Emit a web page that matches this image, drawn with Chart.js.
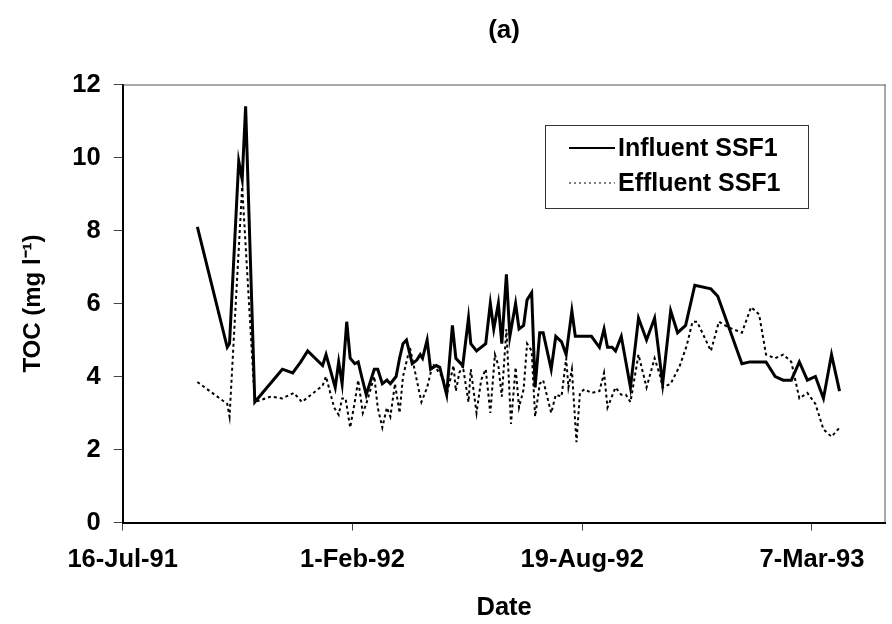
<!DOCTYPE html>
<html>
<head>
<meta charset="utf-8">
<script src="https://cdn.jsdelivr.net/npm/chart.js@4.4.0/dist/chart.umd.min.js"></script>
<style>
  html, body { margin: 0; padding: 0; background: #fff; }
</style>
</head>
<body>
<canvas id="chart" width="892" height="624"></canvas>
<script>
// x axis runs on days counted from the first tick date
const AXIS_START = "1991-07-16";
const AXIS_END = "1993-05-10";
const tickDates = ["1991-07-16", "1992-02-01", "1992-08-19", "1993-03-07"];
const tickLabels = ["16-Jul-91", "1-Feb-92", "19-Aug-92", "7-Mar-93"];

const influentDates = [
  "1991-09-19", "1991-10-15", "1991-10-17", "1991-10-25", "1991-10-28", "1991-10-31", "1991-11-08",
  "1991-12-02", "1991-12-11", "1991-12-18", "1991-12-24",
  "1992-01-06", "1992-01-09", "1992-01-17", "1992-01-20", "1992-01-23", "1992-01-27", "1992-01-30",
  "1992-02-03", "1992-02-06", "1992-02-09", "1992-02-13", "1992-02-20", "1992-02-23", "1992-02-27",
  "1992-03-02", "1992-03-05", "1992-03-10", "1992-03-13", "1992-03-16", "1992-03-19", "1992-03-24",
  "1992-03-28", "1992-03-31", "1992-04-02", "1992-04-06", "1992-04-09", "1992-04-14", "1992-04-17",
  "1992-04-23", "1992-04-28", "1992-05-01", "1992-05-07", "1992-05-12", "1992-05-14", "1992-05-19",
  "1992-05-27", "1992-05-31", "1992-06-03", "1992-06-07", "1992-06-10", "1992-06-14", "1992-06-17",
  "1992-06-22", "1992-06-25", "1992-06-29", "1992-07-02", "1992-07-06", "1992-07-09", "1992-07-13",
  "1992-07-16", "1992-07-23", "1992-07-27", "1992-08-01", "1992-08-05", "1992-08-10", "1992-08-13",
  "1992-08-17", "1992-08-27", "1992-09-03", "1992-09-07", "1992-09-10", "1992-09-14", "1992-09-17",
  "1992-09-22", "1992-09-30", "1992-10-07", "1992-10-14", "1992-10-21", "1992-10-28", "1992-11-04",
  "1992-11-10", "1992-11-17", "1992-11-25", "1992-12-09", "1992-12-15",
  "1993-01-05", "1993-01-12", "1993-01-26", "1993-02-03", "1993-02-10", "1993-02-17", "1993-02-24",
  "1993-03-03", "1993-03-10", "1993-03-17", "1993-03-24", "1993-03-31"
];
const influentToc = [
  8.1, 4.8, 4.9, 9.9, 9.4, 11.4, 3.3,
  4.2, 4.1, 4.4, 4.7,
  4.3, 4.6, 3.7, 4.4, 3.8, 5.5, 4.5,
  4.35, 4.4, 4.0, 3.5, 4.2, 4.2, 3.8,
  3.9, 3.8, 4.0, 4.5, 4.9, 5.0, 4.35,
  4.45, 4.6, 4.5, 5.0, 4.2, 4.3, 4.25,
  3.5, 5.4, 4.5, 4.3, 5.6, 4.9, 4.7,
  4.9, 6.0, 5.3, 6.0, 4.9, 6.8, 5.1,
  6.0, 5.3, 5.4, 6.1, 6.3, 3.7, 5.2,
  5.2, 4.2, 5.1, 4.95, 4.6, 5.8, 5.1,
  5.1, 5.1, 4.8, 5.3, 4.8, 4.8, 4.7,
  5.1, 3.7, 5.6, 5.0, 5.6, 3.8, 5.8,
  5.2, 5.4, 6.5, 6.4, 6.2,
  4.35, 4.4, 4.4, 4.0, 3.9, 3.9, 4.4,
  3.9, 4.0, 3.4, 4.6, 3.6
];

const effluentDates = [
  "1991-09-19", "1991-10-15", "1991-10-17", "1991-10-28", "1991-11-08", "1991-11-22",
  "1991-12-02", "1991-12-12", "1991-12-19", "1991-12-29",
  "1992-01-06", "1992-01-09", "1992-01-16", "1992-01-20", "1992-01-23", "1992-01-26", "1992-01-30",
  "1992-02-03", "1992-02-06", "1992-02-10", "1992-02-13", "1992-02-20", "1992-02-23", "1992-02-27",
  "1992-03-02", "1992-03-05", "1992-03-09", "1992-03-13", "1992-03-16", "1992-03-22", "1992-03-25",
  "1992-04-01", "1992-04-06", "1992-04-11", "1992-04-20", "1992-04-23", "1992-04-29",
  "1992-05-01", "1992-05-04", "1992-05-07", "1992-05-12", "1992-05-14", "1992-05-19", "1992-05-23",
  "1992-05-27", "1992-05-31", "1992-06-04", "1992-06-07", "1992-06-10", "1992-06-14", "1992-06-18",
  "1992-06-22", "1992-06-25", "1992-06-29", "1992-07-02", "1992-07-06", "1992-07-09", "1992-07-13",
  "1992-07-16", "1992-07-23", "1992-07-27", "1992-08-01", "1992-08-05", "1992-08-07", "1992-08-10",
  "1992-08-14", "1992-08-17", "1992-08-21", "1992-08-27", "1992-09-03", "1992-09-07", "1992-09-10",
  "1992-09-17", "1992-09-22", "1992-09-26", "1992-09-30", "1992-10-07", "1992-10-14", "1992-10-21",
  "1992-10-26", "1992-10-28", "1992-11-04", "1992-11-12", "1992-11-18", "1992-11-23", "1992-11-27",
  "1992-12-09", "1992-12-16", "1992-12-24",
  "1993-01-05", "1993-01-13", "1993-01-20", "1993-01-26", "1993-02-03", "1993-02-10", "1993-02-17",
  "1993-02-24", "1993-03-03", "1993-03-10", "1993-03-17", "1993-03-24", "1993-03-31"
];
const effluentToc = [
  3.85, 3.25, 2.9, 9.2, 3.3, 3.45,
  3.4, 3.55, 3.3, 3.55,
  3.75, 4.0, 3.15, 2.95, 3.4, 3.4, 2.6,
  3.3, 3.9, 3.0, 3.25, 4.0, 3.15, 2.6,
  3.15, 2.9, 3.8, 3.0, 4.0, 4.8, 4.35,
  3.3, 3.7, 4.35, 3.95, 3.5, 4.3,
  3.6, 4.1, 4.3, 3.3, 4.2, 3.0, 3.9,
  4.2, 3.0, 4.6, 4.3, 3.45, 5.3, 2.7,
  4.25, 3.15, 3.65, 4.9, 4.7, 2.9, 3.8,
  3.9, 3.0, 3.5, 3.45, 4.5, 3.7, 4.2,
  2.2, 3.55, 3.65, 3.55, 3.6, 4.1, 3.15,
  3.7, 3.5, 3.5, 3.3, 4.6, 3.7, 4.5,
  4.0, 3.7, 3.8, 4.3, 4.85, 5.5, 5.5,
  4.7, 5.5, 5.35,
  5.2, 5.9, 5.7, 4.6, 4.5, 4.6, 4.4,
  3.4, 3.55, 3.25, 2.55, 2.35, 2.6
];

const seriesNames = ["Influent SSF1", "Effluent SSF1"];
const yTitle = "TOC (mg l\u207B\u00B9)";
const xTitle = "Date";
const chartTitle = "(a)";

function toDay(s) {
  const p = s.split("-").map(Number);
  const b = AXIS_START.split("-").map(Number);
  return (Date.UTC(p[0], p[1] - 1, p[2]) - Date.UTC(b[0], b[1] - 1, b[2])) / 86400000;
}

function toPoints(dates, values) {
  return dates.map((d, i) => ({ x: toDay(d), y: values[i] }));
}

const FONT = "Arial, 'Liberation Sans', Helvetica, sans-serif";
Chart.defaults.font.family = FONT;
Chart.defaults.font.weight = "bold";
Chart.defaults.color = "#000";

// thin frame on top and right of the plot area, like the excel plot box
const frameLines = {
  id: "frameLines",
  afterDraw(chart) {
    const a = chart.chartArea;
    const ctx = chart.ctx;
    ctx.save();
    ctx.lineWidth = 1;
    ctx.strokeStyle = "#555";
    ctx.beginPath();
    ctx.moveTo(a.left, a.top + 0.5);
    ctx.lineTo(a.right, a.top + 0.5);
    ctx.moveTo(a.right - 0.5, a.top);
    ctx.lineTo(a.right - 0.5, a.bottom);
    ctx.stroke();
    ctx.restore();
  }
};

// "(a)" centred over the plot area
const panelTitle = {
  id: "panelTitle",
  afterDraw(chart) {
    const a = chart.chartArea;
    const ctx = chart.ctx;
    ctx.save();
    ctx.font = "bold 26px " + FONT;
    ctx.fillStyle = "#000";
    ctx.textAlign = "center";
    ctx.textBaseline = "middle";
    ctx.fillText(chartTitle, (a.left + a.right) / 2, 31);
    ctx.restore();
  }
};

// boxed legend inside the plot area
const boxLegend = {
  id: "boxLegend",
  afterDraw(chart) {
    const ctx = chart.ctx;
    const left = 545, top = 125, w = 263, h = 83;
    ctx.save();
    ctx.fillStyle = "#fff";
    ctx.fillRect(left, top, w, h);
    ctx.lineWidth = 1;
    ctx.strokeStyle = "#333";
    ctx.strokeRect(left + 0.5, top + 0.5, w, h);
    ctx.font = "bold 25px " + FONT;
    ctx.fillStyle = "#000";
    ctx.textBaseline = "middle";
    chart.data.datasets.forEach((ds, i) => {
      const y = top + 23 + i * 35;
      ctx.beginPath();
      ctx.strokeStyle = "#000";
      ctx.lineWidth = i === 0 ? 2 : 1.2;
      ctx.setLineDash(i === 0 ? [] : [2, 3]);
      ctx.moveTo(569, y);
      ctx.lineTo(615, y);
      ctx.stroke();
      ctx.setLineDash([]);
      ctx.fillText(ds.label, 618, y + 1);
    });
    ctx.restore();
  }
};

new Chart(document.getElementById("chart"), {
  type: "line",
  data: {
    datasets: [
      {
        label: seriesNames[0],
        data: toPoints(influentDates, influentToc),
        borderColor: "#000",
        borderWidth: 3,
        pointRadius: 0,
        tension: 0,
        fill: false
      },
      {
        label: seriesNames[1],
        data: toPoints(effluentDates, effluentToc),
        borderColor: "#000",
        borderWidth: 2,
        borderDash: [3, 3],
        pointRadius: 0,
        tension: 0,
        fill: false
      }
    ]
  },
  options: {
    responsive: false,
    animation: false,
    devicePixelRatio: 1,
    layout: { padding: { left: 0, right: 6.5, top: 84.5, bottom: 0 } },
    plugins: {
      legend: { display: false },
      tooltip: { enabled: false },
      title: { display: false }
    },
    scales: {
      x: {
        type: "linear",
        min: toDay(AXIS_START),
        max: toDay(AXIS_END),
        afterBuildTicks: (scale) => {
          scale.ticks = tickDates.map((d) => ({ value: toDay(d) }));
        },
        afterFit: (scale) => { scale.height = 101.5; },
        ticks: {
          autoSkip: false,
          maxRotation: 0,
          padding: 14,
          font: { size: 25.5, weight: "bold" },
          callback: (value, index) => tickLabels[index]
        },
        grid: {
          drawOnChartArea: false,
          drawTicks: true,
          tickLength: 8,
          color: "#444",
          lineWidth: 1
        },
        border: { color: "#000", width: 2 },
        title: {
          display: true,
          text: xTitle,
          font: { size: 25.5, weight: "bold" },
          padding: { top: 0, bottom: 1 }
        }
      },
      y: {
        min: 0,
        max: 12,
        afterFit: (scale) => { scale.width = 122.7; },
        ticks: {
          stepSize: 2,
          padding: 13,
          font: { size: 25.5, weight: "bold" }
        },
        grid: {
          drawOnChartArea: false,
          drawTicks: true,
          tickLength: 9,
          color: "#444",
          lineWidth: 1
        },
        border: { color: "#000", width: 2 },
        title: {
          display: true,
          text: yTitle,
          font: { size: 24, weight: "bold" },
          padding: { top: 19, bottom: 0 }
        }
      }
    }
  },
  plugins: [frameLines, panelTitle, boxLegend]
});
</script>
</body>
</html>
